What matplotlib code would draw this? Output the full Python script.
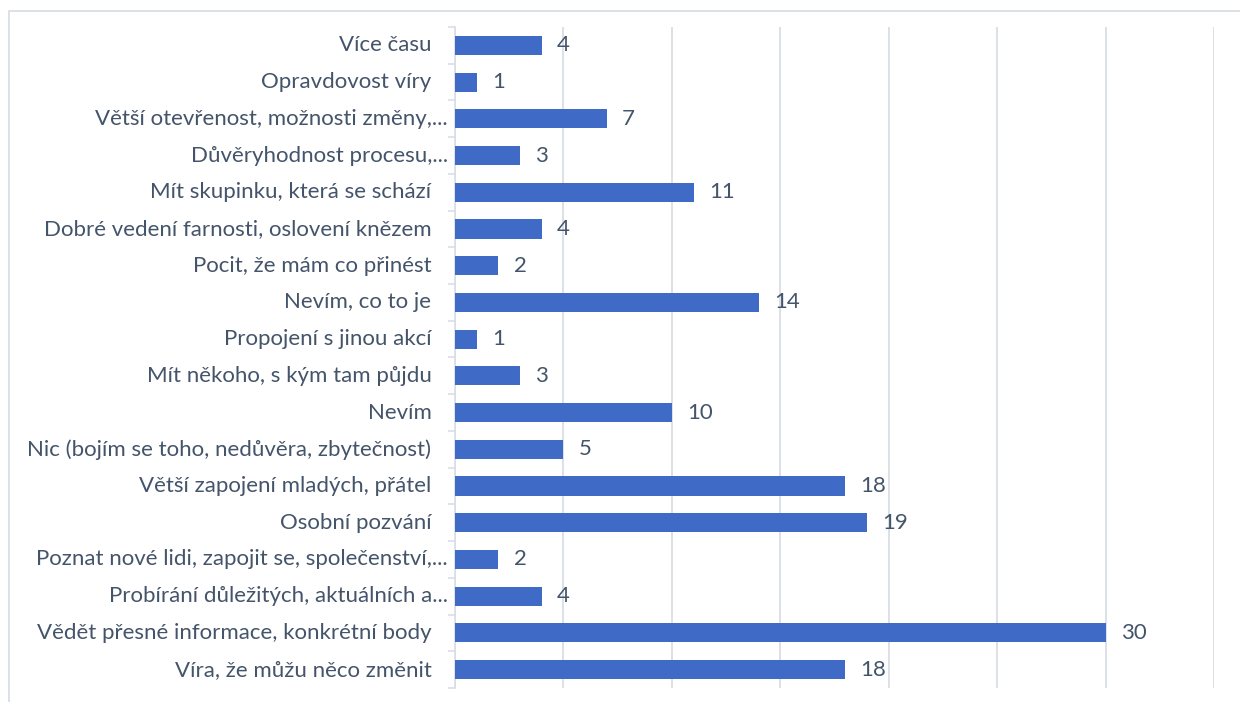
import matplotlib.pyplot as plt
from matplotlib.patches import Rectangle
import numpy as np

labels = [
    "Více času",
    "Opravdovost víry",
    "Větší otevřenost, možnosti změny,...",
    "Důvěryhodnost procesu,...",
    "Mít skupinku, která se schází",
    "Dobré vedení farnosti, oslovení knězem",
    "Pocit, že mám co přinést",
    "Nevím, co to je",
    "Propojení s jinou akcí",
    "Mít někoho, s kým tam půjdu",
    "Nevím",
    "Nic (bojím se toho, nedůvěra, zbytečnost)",
    "Větší zapojení mladých, přátel",
    "Osobní pozvání",
    "Poznat nové lidi, zapojit se, společenství,...",
    "Probírání důležitých, aktuálních a...",
    "Vědět přesné informace, konkrétní body",
    "Víra, že můžu něco změnit",
]
values = [4, 1, 7, 3, 11, 4, 2, 14, 1, 3, 10, 5, 18, 19, 2, 4, 30, 18]

text_col = "#44546A"
bar_col = "#3F6BC6"
grid_col = "#D9DEE6"
fs = 16

plt.rcParams['font.family'] = ['Lato', 'DejaVu Sans']

fig = plt.figure(figsize=(12.4, 7.02), dpi=100)
ax = fig.add_axes([455 / 1240, 1 - 688 / 702, (1214 - 455) / 1240, (688 - 27) / 702])

y = np.arange(len(labels))
ax.barh(y, values, height=0.52, color=bar_col, zorder=3)
for yi, v in zip(y, values):
    ax.text(v + 0.7, yi, str(v), va='center', ha='left', fontsize=fs, color=text_col)

ax.set_xlim(0, 35)
ax.set_ylim(len(labels) - 0.5, -0.5)
ax.set_xticks(np.arange(0, 36, 5))
ax.set_xticklabels([])
ax.tick_params(axis='x', length=0)
ax.grid(axis='x', color=grid_col, linewidth=1.3, zorder=0)

# category labels; truncated ones sit closer to the axis
ax.set_yticks(y)
ax.set_yticklabels([])
ax.tick_params(axis='y', which='major', length=0)
for yi, lab in zip(y, labels):
    off = -5 if lab.endswith("...") else -17
    ax.annotate(lab, xy=(0, yi), xycoords=('axes fraction', 'data'),
                xytext=(off, 0), textcoords='offset points',
                ha='right', va='center', fontsize=fs, color=text_col)
ax.set_yticks(np.arange(-0.5, len(labels), 1), minor=True)
ax.tick_params(axis='y', which='minor', length=5, color=grid_col, width=1.2)

for s in ['top', 'right', 'bottom']:
    ax.spines[s].set_visible(False)
ax.spines['left'].set_color(grid_col)
ax.spines['left'].set_linewidth(1.2)

fig.patches.append(Rectangle((9 / 1240, -0.05), 1.1, 1 - 11 / 702 + 0.05,
                             transform=fig.transFigure, fill=False,
                             edgecolor=grid_col, linewidth=1.3))

fig.savefig("out.png", dpi=100)
